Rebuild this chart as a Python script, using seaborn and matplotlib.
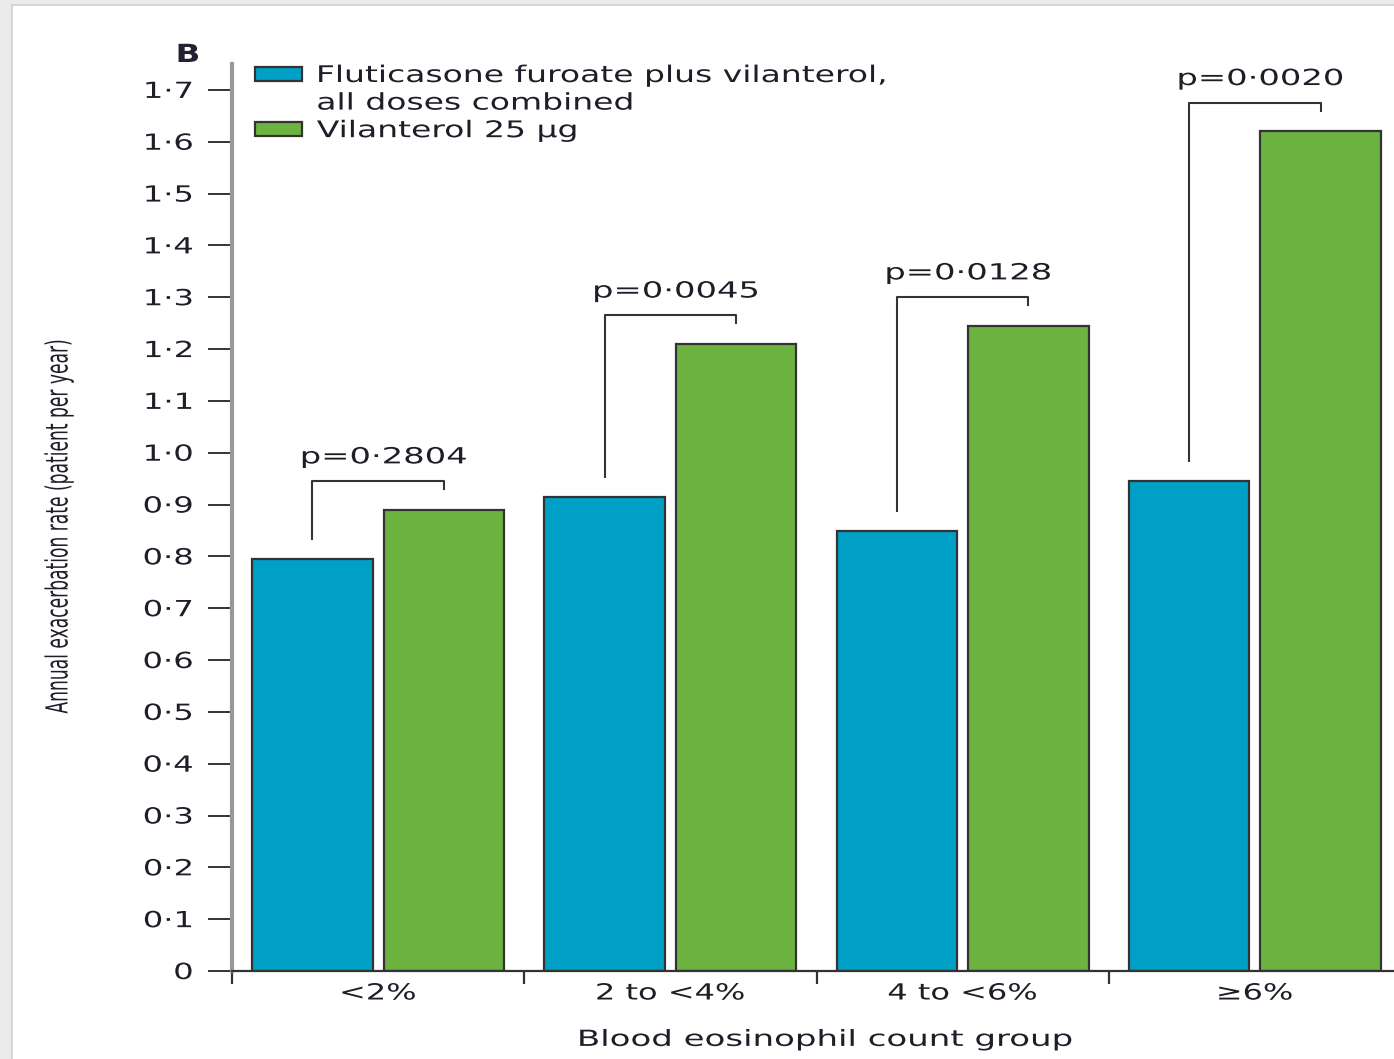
import matplotlib
matplotlib.use("Agg")
import matplotlib.pyplot as plt
from matplotlib.patches import Rectangle, Patch
from matplotlib.patheffects import AbstractPathEffect
from matplotlib.transforms import Affine2D
from matplotlib.ticker import FixedLocator, NullFormatter
import numpy as np
import pandas as pd
import seaborn as sns

# Data
groups = ["<2%", "2 to <4%", "4 to <6%", "\u22656%"]
series = ["Fluticasone furoate plus vilanterol,\nall doses combined", "Vilanterol 25 \u03bcg"]
ff_vi = [0.795, 0.915, 0.848, 0.945]
vi = [0.890, 1.210, 1.245, 1.620]
p_labels = ["p=0\u00b72804", "p=0\u00b70045", "p=0\u00b70128", "p=0\u00b70020"]
ytick_vals = [0.0, 0.1, 0.2, 0.3, 0.4, 0.5, 0.6, 0.7, 0.8, 0.9, 1.0, 1.1, 1.2, 1.3, 1.4, 1.5, 1.6, 1.7]
ytick_text = ["0"] + [f"{v:.1f}".replace(".", "\u00b7") for v in ytick_vals[1:]]

colors = ["#00a0c6", "#6db33f"]
text_color = "#1e1e28"
edge = "#333333"


class HStretch(AbstractPathEffect):
    """Widen glyphs horizontally (in screen space) about the left, centre or right of the ink."""

    def __init__(self, k=1.5, anchor="center"):
        super().__init__()
        self.k = k
        self.anchor = anchor

    def draw_path(self, renderer, gc, tpath, affine, rgbFace=None):
        ext = tpath.get_extents(affine)
        x0 = {"left": ext.x0, "right": ext.x1}.get(self.anchor, 0.5 * (ext.x0 + ext.x1))
        t = affine + Affine2D().translate(-x0, 0).scale(self.k, 1).translate(x0, 0)
        renderer.draw_path(gc, tpath, t, rgbFace)


sns.set_style("white")
plt.rcParams["font.family"] = ["DejaVu Sans"]
plt.rcParams["text.color"] = text_color

df = pd.DataFrame({
    "group": groups * 2,
    "series": [series[0]] * 4 + [series[1]] * 4,
    "rate": ff_vi + vi,
})

W, H = 1394, 1059
fig = plt.figure(figsize=(W / 100, H / 100), dpi=100)
fig.patch.set_facecolor("#ebebeb")
fig.add_artist(Rectangle((12 / W, -0.01), 1.0, 1 - 5 / H + 0.01, transform=fig.transFigure,
                         facecolor="white", edgecolor="#cfcfcf", lw=1.2, zorder=0))

ax = fig.add_axes([232 / W, 1 - 971 / H, 1169 / W, (971 - 64) / H])
ax.set_facecolor("none")

sns.barplot(data=df, x="group", y="rate", hue="series", order=groups, hue_order=series,
            palette=colors, width=0.9, gap=0.085, edgecolor=edge, linewidth=1.6,
            saturation=1, legend=False, ax=ax)

ax.set_xlim(-0.5, 3.5)
ax.set_ylim(0, 1.75)

# Y axis
ax.set_yticks(ytick_vals)
ax.set_yticklabels(ytick_text, fontsize=16, color=text_color)
ax.tick_params(axis="y", direction="out", length=17, width=1.4, color=edge, pad=11, left=True)
for t in ax.get_yticklabels():
    t.set_path_effects([HStretch(1.45, "right")])

# X axis: tick marks at group boundaries, labels at group centres
ax.xaxis.set_major_locator(FixedLocator([-0.5, 0.5, 1.5, 2.5, 3.5]))
ax.xaxis.set_major_formatter(NullFormatter())
ax.xaxis.set_minor_locator(FixedLocator([0, 1, 2, 3]))
ax.set_xticklabels(groups, minor=True, fontsize=16, color=text_color)
ax.tick_params(axis="x", which="major", direction="out", length=9, width=1.6, color=edge, bottom=True)
ax.tick_params(axis="x", which="minor", length=0, pad=9)
for t in ax.get_xticklabels(minor=True):
    t.set_path_effects([HStretch(1.44, "center")])

ax.set_xlabel("Blood eosinophil count group", fontsize=16, color=text_color, labelpad=19,
              path_effects=[HStretch(1.53, "center")])
ax.xaxis.label.set_x(0.508)
ax.set_ylabel("Annual exacerbation rate (patient per year)", fontsize=13.7, color=text_color,
              fontstretch="condensed", path_effects=[HStretch(1.6, "center")])
ax.yaxis.set_label_coords(-0.14, 0.49)

for side in ["top", "right"]:
    ax.spines[side].set_visible(False)
ax.spines["left"].set_color("#999999")
ax.spines["left"].set_linewidth(3)
ax.spines["bottom"].set_color(edge)
ax.spines["bottom"].set_linewidth(1.6)

# Significance brackets between the paired bars
off = 0.9 / 4
for i in range(len(groups)):
    xl, xr = i - off, i + off
    top = vi[i] + 0.055
    ax.plot([xl, xl, xr, xr], [ff_vi[i] + 0.037, top, top, top - 0.017],
            color=edge, lw=1.5, solid_capstyle="butt", zorder=3)
    ax.text(i + 0.02, top + 0.046, p_labels[i], ha="center", va="center", fontsize=16,
            color=text_color, path_effects=[HStretch(1.52, "center")])

# Legend: the first entry wraps onto a second line beside an empty handle
legend_labels = series[0].split("\n") + [series[1]]
handles = [Patch(facecolor=colors[0], edgecolor=edge, linewidth=1.6),
           Patch(facecolor="none", edgecolor="none"),
           Patch(facecolor=colors[1], edgecolor=edge, linewidth=1.6)]
leg = ax.legend(handles, legend_labels, loc="upper left", bbox_to_anchor=(255 / W, 1 - 64 / H),
                bbox_transform=fig.transFigure, frameon=False, fontsize=16.5,
                handlelength=2.05, handleheight=0.61, handletextpad=0.65,
                borderpad=0, borderaxespad=0, labelspacing=0.2)
for t in leg.get_texts():
    t.set_color(text_color)
    t.set_path_effects([HStretch(1.44, "left")])

fig.text(188 / W, 1 - 55 / H, "B", fontsize=18, fontweight="bold", ha="center", va="center",
         color="#222233", path_effects=[HStretch(1.3, "center")])

fig.savefig("out.png", dpi=100, facecolor=fig.get_facecolor())
